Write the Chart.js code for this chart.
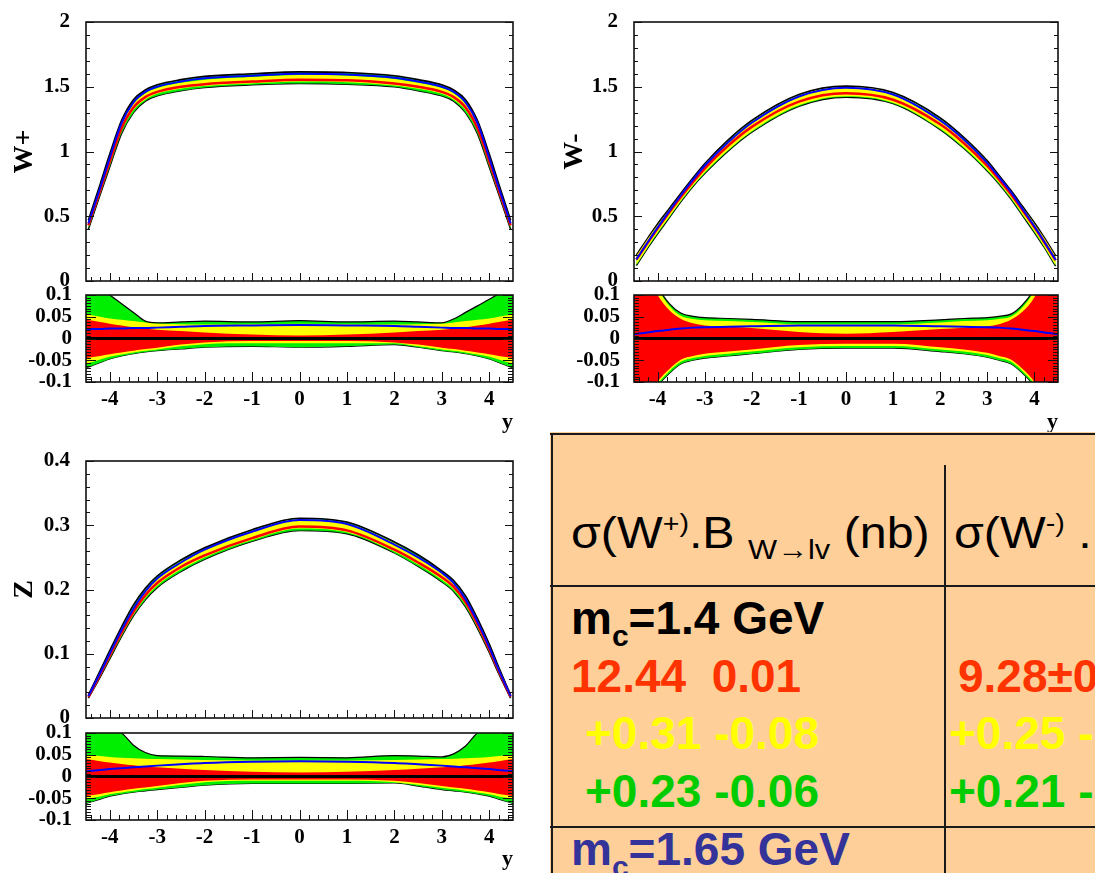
<!DOCTYPE html>
<html>
<head>
<meta charset="utf-8">
<script src="https://cdn.jsdelivr.net/npm/chart.js@4.4.1/dist/chart.umd.min.js"></script>
<style>
html, body { margin: 0; padding: 0; background: #fff; width: 1095px; height: 873px; overflow: hidden; position: relative; }
canvas { position: absolute; }
#tbl { position: absolute; left: 550px; top: 432px; width: 545px; height: 441px; background: #FFCF99; overflow: hidden;
       font-family: 'Liberation Sans', Arial, sans-serif; }
#tbl .ln { position: absolute; background: #1a1a1a; }
#tbl .tx { position: absolute; white-space: pre; line-height: 1; }
.hd { font-size: 44px; color: #000; transform: scaleX(1.1); transform-origin: 0 0; }
.bd { font-size: 46px; font-weight: bold; }
.sp { font-size: 26px; vertical-align: 16px; }
.sb { font-size: 28px; vertical-align: -11px; }
.sc { font-size: 30px; vertical-align: -12px; }
</style>
</head>
<body>
<canvas id="wpMain" width="545" height="296" style="left:0;top:0"></canvas>
<canvas id="wmMain" width="545" height="296" style="left:550px;top:0"></canvas>
<canvas id="wpRat" width="545" height="156" style="left:0;top:280px"></canvas>
<canvas id="wmRat" width="545" height="156" style="left:550px;top:280px"></canvas>
<canvas id="zMain" width="545" height="293" style="left:0;top:440px"></canvas>
<canvas id="zRat" width="545" height="155" style="left:0;top:718px"></canvas>

<div id="tbl">
  <div class="ln" style="left:0;top:1px;width:545px;height:2px"></div>
  <div class="ln" style="left:1px;top:1px;width:2px;height:441px"></div>
  <div class="ln" style="left:394px;top:33px;width:2px;height:410px"></div>
  <div class="ln" style="left:0;top:153px;width:545px;height:2px"></div>
  <div class="ln" style="left:0;top:394px;width:545px;height:2px"></div>

  <div class="tx hd" style="left:21px;top:78px">σ(W<span class="sp">+)</span>.B <span class="sb">W→lv</span> (nb)</div>
  <div class="tx hd" style="left:404px;top:78px">σ(W<span class="sp">-)</span> .</div>

  <div class="tx bd" style="left:21px;top:163px;color:#000">m<span class="sc">c</span>=1.4 GeV</div>
  <div class="tx bd" style="left:21px;top:221px;color:#FF3300">12.44  0.01</div>
  <div class="tx bd" style="left:35px;top:278px;color:#FFFF00">+0.31 -0.08</div>
  <div class="tx bd" style="left:35px;top:336px;color:#00CC00">+0.23 -0.06</div>
  <div class="tx bd" style="left:21px;top:394px;color:#333399">m<span class="sc">c</span>=1.65 GeV</div>

  <div class="tx bd" style="left:408px;top:221px;color:#FF3300">9.28±0</div>
  <div class="tx bd" style="left:399px;top:278px;color:#FFFF00">+0.25 -</div>
  <div class="tx bd" style="left:399px;top:336px;color:#00CC00">+0.21 -</div>
</div>

<script>
// rapidity points
var xMain  = [-4.45, -4.2, -4, -3.75, -3.5, -3.25, -3, -2.5, -2, -1, 0, 1, 2, 2.5, 3, 3.25, 3.5, 3.75, 4, 4.2, 4.45];
var xRatio = [-4.5, -4.2, -4, -3.75, -3.5, -3.25, -3, -2.5, -2, -1, 0, 1, 2, 2.5, 3, 3.25, 3.5, 3.75, 4, 4.2, 4.5];
var xTickLabels = [-4, -3, -2, -1, 0, 1, 2, 3, 4];

// W+ distribution
var wpCentral = [0.43, 0.7, 0.92, 1.18, 1.34, 1.42, 1.46, 1.5, 1.52, 1.54, 1.555, 1.55, 1.525, 1.5, 1.46, 1.42, 1.34, 1.18, 0.92, 0.7, 0.43];
var wpBlue    = [0.445, 0.72, 0.95, 1.22, 1.38, 1.46, 1.5, 1.54, 1.565, 1.585, 1.6, 1.595, 1.57, 1.54, 1.5, 1.46, 1.38, 1.22, 0.95, 0.72, 0.445];
var wpGreenUp = [0.47, 0.75, 0.98, 1.24, 1.4, 1.475, 1.515, 1.555, 1.58, 1.6, 1.615, 1.61, 1.585, 1.555, 1.515, 1.475, 1.4, 1.24, 0.98, 0.75, 0.47];
var wpGreenLo = [0.4, 0.67, 0.88, 1.14, 1.3, 1.39, 1.43, 1.47, 1.495, 1.515, 1.525, 1.52, 1.5, 1.47, 1.43, 1.39, 1.3, 1.14, 0.88, 0.67, 0.4];
var wpYellowUp = [0.455, 0.73, 0.955, 1.21, 1.37, 1.45, 1.49, 1.53, 1.555, 1.575, 1.59, 1.585, 1.56, 1.53, 1.49, 1.45, 1.37, 1.21, 0.955, 0.73, 0.455];
var wpYellowLo = [0.415, 0.685, 0.9, 1.16, 1.32, 1.4, 1.445, 1.485, 1.505, 1.525, 1.54, 1.535, 1.51, 1.485, 1.445, 1.4, 1.32, 1.16, 0.9, 0.685, 0.415];

// W- distribution
var wmCentral = [0.165, 0.3, 0.405, 0.53, 0.65, 0.762, 0.868, 1.045, 1.19, 1.385, 1.45, 1.4, 1.21, 1.065, 0.888, 0.782, 0.67, 0.545, 0.415, 0.305, 0.16];
var wmBlue    = [0.167, 0.304, 0.412, 0.54, 0.664, 0.78, 0.89, 1.072, 1.222, 1.425, 1.493, 1.44, 1.24, 1.092, 0.91, 0.8, 0.686, 0.555, 0.422, 0.309, 0.162];
var wmGreenUp = [0.2, 0.335, 0.44, 0.56, 0.68, 0.795, 0.905, 1.09, 1.24, 1.44, 1.505, 1.455, 1.26, 1.11, 0.928, 0.815, 0.7, 0.575, 0.45, 0.34, 0.195];
var wmGreenLo = [0.12, 0.26, 0.365, 0.49, 0.615, 0.73, 0.83, 1.005, 1.15, 1.35, 1.42, 1.37, 1.17, 1.025, 0.85, 0.75, 0.635, 0.505, 0.375, 0.265, 0.115];
var wmYellowUp = [0.195, 0.33, 0.433, 0.553, 0.672, 0.787, 0.897, 1.08, 1.23, 1.432, 1.498, 1.448, 1.25, 1.1, 0.918, 0.807, 0.692, 0.568, 0.443, 0.335, 0.19];
var wmYellowLo = [0.125, 0.265, 0.372, 0.497, 0.622, 0.736, 0.838, 1.012, 1.157, 1.357, 1.427, 1.377, 1.177, 1.032, 0.858, 0.757, 0.642, 0.512, 0.382, 0.27, 0.12];

// Z distribution
var zCentral = [0.033, 0.068, 0.097, 0.133, 0.165, 0.191, 0.21, 0.235, 0.253, 0.28, 0.298, 0.292, 0.262, 0.242, 0.219, 0.204, 0.18, 0.146, 0.107, 0.073, 0.033];
var zBlue    = [0.034, 0.07, 0.1, 0.137, 0.17, 0.197, 0.217, 0.242, 0.262, 0.29, 0.308, 0.302, 0.27, 0.25, 0.226, 0.21, 0.185, 0.15, 0.11, 0.075, 0.034];
var zGreenUp = [0.036, 0.074, 0.105, 0.142, 0.176, 0.202, 0.221, 0.246, 0.265, 0.293, 0.311, 0.305, 0.274, 0.254, 0.229, 0.214, 0.19, 0.155, 0.115, 0.079, 0.036];
var zGreenLo = [0.031, 0.064, 0.092, 0.127, 0.159, 0.184, 0.203, 0.228, 0.247, 0.275, 0.292, 0.287, 0.257, 0.236, 0.212, 0.197, 0.173, 0.14, 0.102, 0.069, 0.031];
var zYellowUp = [0.035, 0.072, 0.102, 0.139, 0.172, 0.199, 0.218, 0.244, 0.262, 0.291, 0.309, 0.303, 0.272, 0.251, 0.227, 0.211, 0.187, 0.152, 0.112, 0.077, 0.035];
var zYellowLo = [0.032, 0.066, 0.094, 0.129, 0.161, 0.187, 0.206, 0.231, 0.25, 0.277, 0.295, 0.289, 0.259, 0.239, 0.215, 0.2, 0.176, 0.142, 0.104, 0.071, 0.032];

// relative uncertainty bands (lower panels)
var wpRatGreenUp  = [0.14, 0.115, 0.1, 0.08, 0.06, 0.04, 0.036, 0.038, 0.04, 0.038, 0.041, 0.038, 0.04, 0.038, 0.036, 0.045, 0.06, 0.075, 0.09, 0.103, 0.125];
var wpRatGreenLo  = [-0.068, -0.055, -0.047, -0.04, -0.035, -0.031, -0.028, -0.024, -0.02, -0.018, -0.02, -0.018, -0.014, -0.02, -0.028, -0.031, -0.035, -0.04, -0.047, -0.055, -0.068];
var wpRatYellowUp = [0.055, 0.05, 0.046, 0.043, 0.04, 0.037, 0.034, 0.033, 0.032, 0.033, 0.034, 0.033, 0.032, 0.033, 0.034, 0.037, 0.04, 0.043, 0.046, 0.05, 0.055];
var wpRatYellowLo = [-0.058, -0.048, -0.042, -0.037, -0.032, -0.028, -0.025, -0.018, -0.013, -0.011, -0.011, -0.011, -0.011, -0.018, -0.025, -0.028, -0.032, -0.037, -0.042, -0.048, -0.058];
var wpRatRedUp    = [0.043, 0.038, 0.034, 0.03, 0.026, 0.023, 0.02, 0.017, 0.014, 0.009, 0.007, 0.009, 0.014, 0.017, 0.02, 0.023, 0.026, 0.03, 0.034, 0.038, 0.043];
var wpRatRedLo    = [-0.045, -0.04, -0.036, -0.032, -0.028, -0.024, -0.021, -0.014, -0.009, -0.006, -0.006, -0.006, -0.009, -0.014, -0.021, -0.024, -0.028, -0.032, -0.036, -0.04, -0.045];
var wpRatBlue     = [0.022, 0.022, 0.023, 0.023, 0.024, 0.024, 0.025, 0.027, 0.029, 0.03, 0.031, 0.03, 0.029, 0.027, 0.025, 0.024, 0.024, 0.023, 0.023, 0.022, 0.022];

var wmRatGreenUp  = [0.33, 0.17, 0.12, 0.08, 0.058, 0.051, 0.048, 0.046, 0.044, 0.039, 0.039, 0.039, 0.043, 0.046, 0.048, 0.051, 0.056, 0.078, 0.115, 0.17, 0.33];
var wmRatGreenLo  = [-0.31, -0.15, -0.11, -0.08, -0.058, -0.05, -0.045, -0.04, -0.035, -0.025, -0.022, -0.022, -0.03, -0.035, -0.043, -0.05, -0.058, -0.08, -0.11, -0.15, -0.31];
var wmRatYellowUp = [0.32, 0.16, 0.115, 0.075, 0.052, 0.045, 0.042, 0.04, 0.038, 0.033, 0.033, 0.033, 0.037, 0.04, 0.042, 0.045, 0.05, 0.072, 0.11, 0.16, 0.32];
var wmRatYellowLo = [-0.305, -0.145, -0.105, -0.075, -0.053, -0.045, -0.04, -0.035, -0.03, -0.02, -0.017, -0.017, -0.025, -0.03, -0.038, -0.045, -0.053, -0.075, -0.105, -0.145, -0.305];
var wmRatRedUp    = [0.3, 0.14, 0.1, 0.065, 0.045, 0.035, 0.03, 0.027, 0.024, 0.015, 0.011, 0.015, 0.022, 0.025, 0.028, 0.033, 0.043, 0.062, 0.095, 0.14, 0.3];
var wmRatRedLo    = [-0.3, -0.14, -0.1, -0.07, -0.048, -0.04, -0.035, -0.03, -0.025, -0.015, -0.012, -0.012, -0.02, -0.025, -0.033, -0.04, -0.048, -0.07, -0.1, -0.14, -0.3];
var wmRatBlue     = [0.01, 0.014, 0.017, 0.02, 0.023, 0.025, 0.026, 0.027, 0.028, 0.03, 0.03, 0.03, 0.028, 0.027, 0.026, 0.025, 0.023, 0.02, 0.017, 0.014, 0.01];

var zRatGreenUp  = [0.15, 0.125, 0.11, 0.1, 0.072, 0.055, 0.048, 0.047, 0.046, 0.043, 0.044, 0.043, 0.048, 0.047, 0.045, 0.052, 0.07, 0.1, 0.11, 0.125, 0.15];
var zRatGreenLo  = [-0.062, -0.052, -0.045, -0.04, -0.036, -0.033, -0.03, -0.025, -0.02, -0.016, -0.016, -0.016, -0.015, -0.022, -0.03, -0.033, -0.036, -0.04, -0.045, -0.052, -0.062];
var zRatYellowUp = [0.05, 0.047, 0.045, 0.043, 0.042, 0.041, 0.04, 0.039, 0.038, 0.037, 0.037, 0.037, 0.038, 0.039, 0.04, 0.041, 0.042, 0.043, 0.045, 0.047, 0.05];
var zRatYellowLo = [-0.052, -0.046, -0.041, -0.037, -0.033, -0.029, -0.026, -0.019, -0.013, -0.01, -0.01, -0.01, -0.013, -0.019, -0.026, -0.029, -0.033, -0.037, -0.041, -0.046, -0.052];
var zRatRedUp    = [0.04, 0.035, 0.032, 0.029, 0.026, 0.023, 0.021, 0.018, 0.015, 0.011, 0.009, 0.011, 0.015, 0.018, 0.021, 0.023, 0.026, 0.029, 0.032, 0.035, 0.04];
var zRatRedLo    = [-0.045, -0.04, -0.036, -0.032, -0.028, -0.025, -0.022, -0.015, -0.01, -0.007, -0.007, -0.007, -0.01, -0.015, -0.022, -0.025, -0.028, -0.032, -0.036, -0.04, -0.045];
var zRatBlue     = [0.012, 0.015, 0.017, 0.019, 0.021, 0.023, 0.025, 0.028, 0.031, 0.034, 0.035, 0.034, 0.031, 0.028, 0.025, 0.023, 0.021, 0.019, 0.017, 0.015, 0.012];
var ratioZero    = [0, 0, 0, 0, 0, 0, 0, 0, 0, 0, 0, 0, 0, 0, 0, 0, 0, 0, 0, 0, 0];

var GREEN = '#00ee00', YELLOW = '#ffff00', RED = '#ff0000', BLUE = '#0000ff';
var SERIF = "'Liberation Serif', 'DejaVu Serif', serif";

// ROOT-like frame with inward ticks
var rootFrame = {
    id: 'rootFrame',
    afterDatasetsDraw: function (chart) {
        var o = chart.options.plugins.rootFrame;
        var ctx = chart.ctx, a = chart.chartArea;
        var xs = chart.scales.x, ys = chart.scales.y;
        function walk(min, max, minor, major, fn) {
            var i0 = Math.ceil(min / minor - 1e-6), i1 = Math.floor(max / minor + 1e-6);
            for (var i = i0; i <= i1; i++) {
                var v = i * minor, r = v / major;
                fn(v, Math.abs(r - Math.round(r)) < 1e-6);
            }
        }
        ctx.save();
        ctx.strokeStyle = '#111';
        ctx.lineWidth = 1;
        ctx.beginPath();
        walk(xs.min, xs.max, o.xMinor, o.xMajor, function (v, big) {
            var px = Math.round(xs.getPixelForValue(v)) + 0.5;
            ctx.moveTo(px, a.bottom);
            ctx.lineTo(px, a.bottom - (big ? o.xLen : o.xLen / 2));
        });
        walk(ys.min, ys.max, o.yMinor, o.yMajor, function (v, big) {
            var py = Math.round(ys.getPixelForValue(v)) + 0.5;
            var len = big ? o.yLen : o.yLen / 2;
            ctx.moveTo(a.left, py); ctx.lineTo(a.left + len, py);
            ctx.moveTo(a.right, py); ctx.lineTo(a.right - len, py);
        });
        ctx.stroke();
        ctx.lineWidth = 1.6;
        ctx.strokeRect(a.left, a.top, a.right - a.left, a.bottom - a.top);
        ctx.restore();
    }
};

function pts(xs, ys) {
    return xs.map(function (x, i) { return { x: x, y: ys[i] }; });
}

function curve(xs, ys, border, width, fillColor, order) {
    return {
        data: pts(xs, ys),
        borderColor: border,
        borderWidth: width,
        backgroundColor: fillColor || 'transparent',
        fill: fillColor ? '+1' : false,
        pointRadius: 0,
        cubicInterpolationMode: 'monotone',
        order: order
    };
}

function fmt(v) { return String(+(+v).toFixed(3)); }

// box: canvas rect in page px, area: wanted plot rect in page px
function makePanel(id, box, area, sets, y, isRatio, yTitle) {
    var xAxisH = box.b - area.b, yAxisW = area.l - box.l;
    new Chart(document.getElementById(id), {
        type: 'line',
        data: { datasets: sets },
        options: {
            responsive: false,
            animation: false,
            events: [],
            layout: { padding: { top: area.t - box.t, right: box.r - area.r, left: 0, bottom: 0 } },
            plugins: {
                legend: { display: false },
                tooltip: { enabled: false },
                rootFrame: isRatio
                    ? { xMinor: 0.2, xMajor: 1, xLen: 10, yMinor: y.minor, yMajor: y.step, yLen: 10 }
                    : { xMinor: 0.2, xMajor: 1, xLen: 8, yMinor: y.minor, yMajor: y.step, yLen: 8 }
            },
            scales: {
                x: {
                    type: 'linear', min: -4.5, max: 4.5,
                    grid: { display: false, drawTicks: true, tickLength: 5 },
                    border: { display: false },
                    afterBuildTicks: function (s) {
                        s.ticks = xTickLabels.map(function (v) { return { value: v }; });
                    },
                    ticks: {
                        display: isRatio, padding: 0, color: '#000',
                        maxRotation: 0, autoSkip: false,
                        font: { family: SERIF, weight: 'bold', size: 21 },
                        callback: function (v) { return String(v); }
                    },
                    title: {
                        display: isRatio, text: 'y', align: 'end', color: '#000',
                        font: { family: SERIF, weight: 'bold', size: 22 },
                        padding: { top: 0, bottom: 0 }
                    },
                    afterFit: function (s) { s.height = xAxisH; }
                },
                y: {
                    min: y.min, max: y.max,
                    grid: { display: false, drawTicks: true, tickLength: isRatio ? 14 : 16 },
                    border: { display: false },
                    ticks: {
                        stepSize: y.step, padding: 0, color: '#000', autoSkip: false,
                        font: { family: SERIF, weight: 'bold', size: 21 },
                        callback: fmt
                    },
                    title: {
                        display: !!yTitle, text: yTitle || '', color: '#000',
                        font: { family: SERIF, weight: 'bold', size: 28 },
                        padding: { top: 8, bottom: 0 }
                    },
                    afterFit: function (s) { s.width = yAxisW; }
                }
            }
        },
        plugins: [rootFrame]
    });
}

function mainSets(gu, gl, yu, yl, c, b) {
    return [
        curve(xMain, gu, '#000', 1.6, GREEN, 5),
        curve(xMain, gl, '#000', 1.6, null, 5),
        curve(xMain, yu, 'transparent', 0, YELLOW, 4),
        curve(xMain, yl, 'transparent', 0, null, 4),
        curve(xMain, c, RED, 2.5, null, 3),
        curve(xMain, b, BLUE, 2, null, 2)
    ];
}

function ratioSets(gu, gl, yu, yl, ru, rl, b) {
    return [
        curve(xRatio, gu, '#000', 1.2, GREEN, 6),
        curve(xRatio, gl, '#000', 1.2, null, 6),
        curve(xRatio, yu, 'transparent', 0, YELLOW, 5),
        curve(xRatio, yl, 'transparent', 0, null, 5),
        curve(xRatio, ru, 'transparent', 0, RED, 4),
        curve(xRatio, rl, 'transparent', 0, null, 4),
        curve(xRatio, b, BLUE, 2, null, 3),
        curve(xRatio, ratioZero, '#000', 3, null, 2)
    ];
}

var yW = { min: 0, max: 2, step: 0.5, minor: 0.1 };
var yZ = { min: 0, max: 0.4, step: 0.1, minor: 0.02 };
var yR = { min: -0.1, max: 0.1, step: 0.05, minor: 0.00625 };

makePanel('wpMain', { l: 0, t: 0, r: 545, b: 296 }, { l: 86, t: 22, r: 513, b: 281 },
    mainSets(wpGreenUp, wpGreenLo, wpYellowUp, wpYellowLo, wpCentral, wpBlue), yW, false, 'W+');
makePanel('wmMain', { l: 550, t: 0, r: 1095, b: 296 }, { l: 634, t: 22, r: 1058, b: 281 },
    mainSets(wmGreenUp, wmGreenLo, wmYellowUp, wmYellowLo, wmCentral, wmBlue), yW, false, 'W-');
makePanel('wpRat', { l: 0, t: 280, r: 545, b: 436 }, { l: 86, t: 295, r: 513, b: 382 },
    ratioSets(wpRatGreenUp, wpRatGreenLo, wpRatYellowUp, wpRatYellowLo, wpRatRedUp, wpRatRedLo, wpRatBlue), yR, true, '');
makePanel('wmRat', { l: 550, t: 280, r: 1095, b: 436 }, { l: 634, t: 295, r: 1058, b: 382 },
    ratioSets(wmRatGreenUp, wmRatGreenLo, wmRatYellowUp, wmRatYellowLo, wmRatRedUp, wmRatRedLo, wmRatBlue), yR, true, '');
makePanel('zMain', { l: 0, t: 440, r: 545, b: 733 }, { l: 86, t: 461, r: 513, b: 718 },
    mainSets(zGreenUp, zGreenLo, zYellowUp, zYellowLo, zCentral, zBlue), yZ, false, 'Z');
makePanel('zRat', { l: 0, t: 718, r: 545, b: 873 }, { l: 86, t: 733, r: 513, b: 820 },
    ratioSets(zRatGreenUp, zRatGreenLo, zRatYellowUp, zRatYellowLo, zRatRedUp, zRatRedLo, zRatBlue), yR, true, '');
</script>
</body>
</html>
